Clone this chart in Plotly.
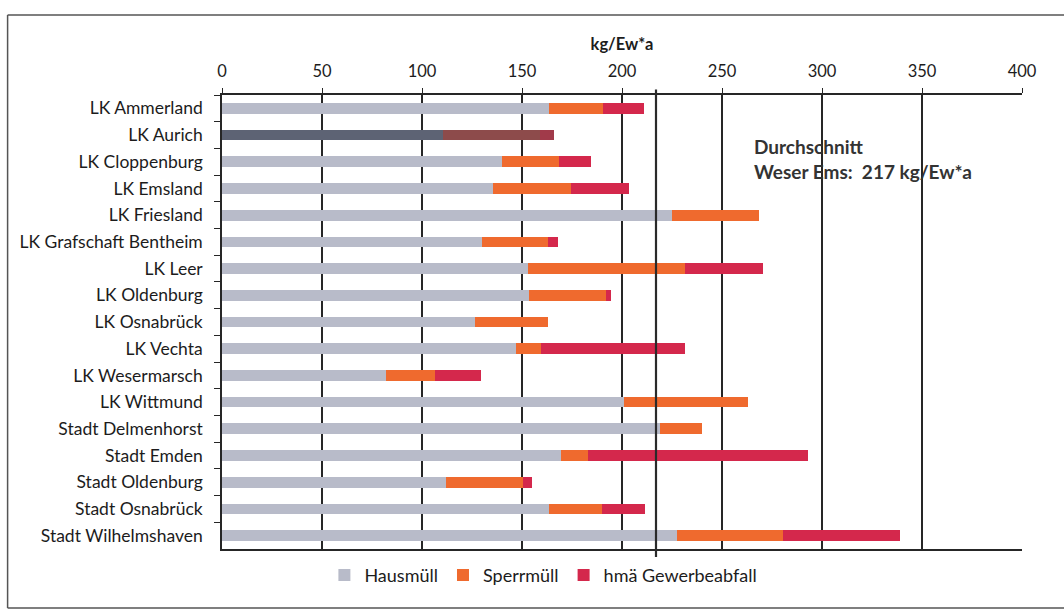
import plotly.graph_objects as go

# Districts and cities of the Weser-Ems region, top to bottom
regions = [
    "LK Ammerland", "LK Aurich", "LK Cloppenburg", "LK Emsland", "LK Friesland",
    "LK Grafschaft Bentheim", "LK Leer", "LK Oldenburg", "LK Osnabrück", "LK Vechta",
    "LK Wesermarsch", "LK Wittmund", "Stadt Delmenhorst", "Stadt Emden",
    "Stadt Oldenburg", "Stadt Osnabrück", "Stadt Wilhelmshaven",
]

# kg per inhabitant and year
hausmuell = [163.6, 110.6, 140.0, 135.6, 225.0, 130.0, 153.0, 153.6, 126.6, 147.0,
             82.0, 201.0, 219.0, 169.6, 112.0, 163.6, 227.6]
sperrmuell = [27.0, 48.4, 28.6, 39.0, 43.6, 33.0, 78.6, 38.4, 36.4, 12.6,
              24.6, 62.0, 21.0, 13.4, 38.6, 26.4, 53.0]
gewerbe = [20.4, 7.0, 16.0, 29.0, 0.0, 5.0, 39.1, 2.6, 0.0, 72.0,
           23.0, 0.0, 0.0, 110.0, 4.4, 21.6, 58.4]

average = 217
avg_text = "Durchschnitt<br>Weser Ems:  217 kg/Ew*a"

FONT = "Lato"
TXT = "#1c1c1c"

c_haus = "#b8bbc9"
c_sperr = "#ef6a2e"
c_gew = "#d4284c"

# LK Aurich is drawn in a darker, highlighted tone
highlight = "LK Aurich"
haus_colors = ["#5d6374" if r == highlight else c_haus for r in regions]
sperr_colors = ["#8d4b4b" if r == highlight else c_sperr for r in regions]
gew_colors = ["#a13a4a" if r == highlight else c_gew for r in regions]

fig = go.Figure()
fig.add_trace(go.Bar(y=regions, x=hausmuell, orientation="h", name="Hausmüll",
                     marker=dict(color=haus_colors, line=dict(width=0))))
fig.add_trace(go.Bar(y=regions, x=sperrmuell, orientation="h", name="Sperrmüll",
                     marker=dict(color=sperr_colors, line=dict(width=0))))
fig.add_trace(go.Bar(y=regions, x=gewerbe, orientation="h", name="hmä Gewerbeabfall",
                     marker=dict(color=gew_colors, line=dict(width=0))))

# regional average line
fig.add_shape(type="line", xref="x", yref="paper", x0=average, x1=average,
              y0=-0.018, y1=1.012, line=dict(color="#2a2a2a", width=2.2), layer="above")

fig.add_annotation(x=0.663, xref="paper", y=0.916, yref="paper", xanchor="left",
                   yanchor="top", align="left", showarrow=False, text=avg_text,
                   font=dict(family=FONT, size=19, color="#333333", weight="bold"))

# outer frame: top, left and bottom edges
frame = dict(color="#555555", width=1.5)
fx0, fx1, fy0, fy1 = -0.268, 1.2, -0.13, 1.176
fig.add_shape(type="line", xref="paper", yref="paper", x0=fx0, x1=fx1, y0=fy1, y1=fy1, line=frame)
fig.add_shape(type="line", xref="paper", yref="paper", x0=fx0, x1=fx1, y0=fy0, y1=fy0, line=frame)
fig.add_shape(type="line", xref="paper", yref="paper", x0=fx0, x1=fx0, y0=fy0, y1=fy1, line=frame)

fig.update_layout(
    width=1064, height=616,
    margin=dict(l=222, r=42, t=95, b=67),
    barmode="stack", bargap=0.6,
    paper_bgcolor="white", plot_bgcolor="white",
    font=dict(family=FONT, size=16, color=TXT),
    showlegend=True,
    legend=dict(orientation="h", x=0.128, xanchor="left", y=-0.017, yanchor="top",
                font=dict(family=FONT, size=18, color=TXT), traceorder="normal",
                itemwidth=30),
    xaxis=dict(side="top", range=[0, 400], dtick=50, tick0=0,
               showgrid=True, gridcolor="#262626", gridwidth=1.5,
               showline=True, linecolor="#262626", linewidth=1.5, mirror=True,
               ticks="outside", ticklen=5, tickcolor="#262626",
               tickfont=dict(family=FONT, size=16.5, color=TXT), ticklabelstandoff=5,
               title=dict(text="kg/Ew*a", standoff=6,
                          font=dict(family=FONT, size=16.5, color=TXT, weight="bold")),
               zeroline=False, fixedrange=True),
    yaxis=dict(autorange="reversed", showline=True, linecolor="#262626", linewidth=1.5,
               ticks="outside", ticklen=6, tickcolor="#262626", tickson="boundaries",
               tickfont=dict(family=FONT, size=17.5, color=TXT),
               showgrid=False, fixedrange=True, ticklabelstandoff=14),
)

fig.write_html("out.html")
